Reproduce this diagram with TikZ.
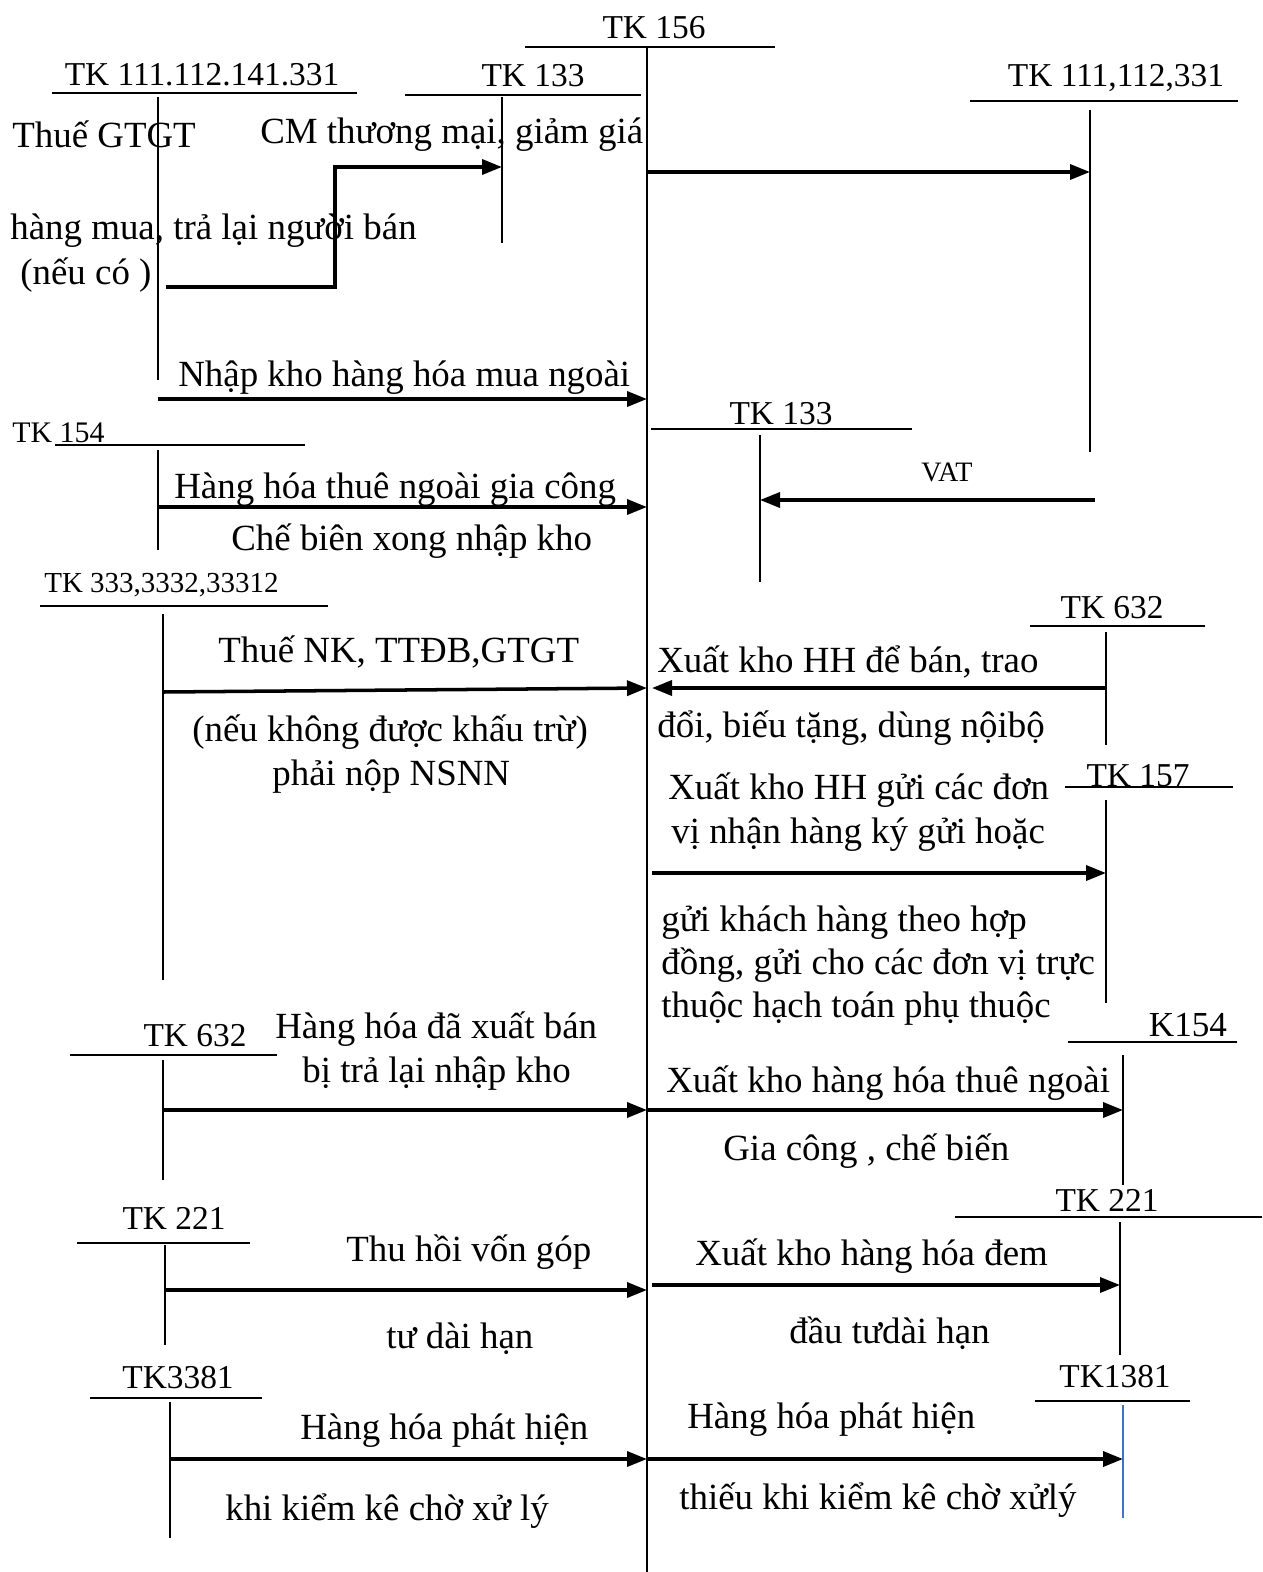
\documentclass[tikz,border=0pt]{standalone}
\usepackage{fontspec}
\setmainfont{Liberation Serif}
\usetikzlibrary{arrows.meta}
\definecolor{lineblue}{RGB}{68,114,196}

\begin{document}
\begin{tikzpicture}[x=0.02cm,y=-0.02cm,
  txt/.style={inner sep=0pt,anchor=west,yshift=-2.6pt,font=\fontsize{21}{25}\selectfont},
  acc/.style={inner sep=0pt,yshift=-0.4pt,font=\fontsize{19}{22}\selectfont},
  smallacc/.style={inner sep=0pt,anchor=west,yshift=-0.4pt,font=\fontsize{17}{20}\selectfont},
  hline/.style={line width=1.1pt},
  vline/.style={line width=1.3pt},
  arr/.style={line width=2pt,-{Triangle[length=0.4cm,width=0.3cm]}}]
  \useasboundingbox (0,0) rectangle (1262,1572);

  % TK 156 in the middle
  \node[acc] (t156) at (654,27) {TK 156};
  \draw[hline] (525,47) -- (775,47);
  \coordinate (v156) at (647,47);
  \coordinate (v156end) at (647,1572);
  \draw[line width=1.6pt] (v156) -- (v156end);

  % TK 111.112.141.331
  \node[acc] (t111) at (202,74) {TK 111.112.141.331};
  \draw[hline] (52,93) -- (357,93);
  \coordinate (v111) at (158,97);
  \draw[vline] (v111) -- (158,380);
  \node[txt] (gtgt) at (12,130) {Thuế GTGT};
  \node[txt] (cm) at (260,130) {CM thương mại, giảm giá};
  \node[txt] (hm) at (10,226) {hàng mua, trả lại người bán};
  \node[txt] (nc) at (20,270) {(nếu có )};
  \node[txt] (nk) at (178,373) {Nhập kho hàng hóa mua ngoài};
  \draw[arr] (v111 |- 0,399) -- (v156 |- 0,399);

  % TK 133 top
  \node[acc] (t133a) at (533,75) {TK 133};
  \draw[hline] (405,95) -- (641,95);
  \coordinate (v133a) at (502,97);
  \draw[vline] (v133a) -- (502,243);
  \coordinate (e1) at (166,287);
  \coordinate (e2) at (335,287);
  \coordinate (e3) at (335,167);
  \draw[arr] (e1) -- (e2) -- (e3) -- (v133a |- e3);

  % TK 111,112,331 right
  \node[acc] (t111r) at (1116,77) {TK 111,112,331};
  \draw[hline] (970,101) -- (1238,101);
  \coordinate (v111r) at (1090,110);
  \draw[vline] (v111r) -- (1090,452);
  \draw[arr] (v156 |- 0,172) -- (v111r |- 0,172);

  % TK 154 left
  \node[smallacc] (t154) at (12,432) {TK 154};
  \draw[hline] (55,445) -- (305,445);
  \coordinate (v154) at (158,450);
  \draw[vline] (v154) -- (158,550);
  \node[txt] (hh1) at (174,485) {Hàng hóa thuê ngoài gia công};
  \draw[arr] (v154 |- 0,507) -- (v156 |- 0,507);
  \node[txt] (cb) at (231,537) {Chế biên xong nhập kho};

  % TK 133 middle
  \node[acc] (t133b) at (781,413) {TK 133};
  \draw[hline] (651,429) -- (912,429);
  \coordinate (v133b) at (760,435);
  \draw[vline] (v133b) -- (760,582);
  \node[acc,font=\fontsize{16}{19}\selectfont] (vat) at (947,472) {VAT};
  \coordinate (vatst) at (1095,500);
  \draw[arr] (vatst) -- (v133b |- vatst);

  % TK 333,3332,33312
  \node[smallacc,font=\fontsize{16.5}{19}\selectfont] (t333) at (44,584) {TK 333,3332,33312};
  \draw[hline] (40,606) -- (328,606);
  \coordinate (v333) at (163,614);
  \draw[vline] (v333) -- (163,980);
  \node[txt] (thue) at (218,647) {Thuế NK, TTĐB,GTGT};
  \draw[arr] (v333 |- 0,692) -- (v156 |- 0,688);
  \node[txt] (nkt) at (192,728) {(nếu không được khấu trừ)};
  \node[txt] (pn) at (272,772) {phải nộp NSNN};

  % TK 632 right
  \node[acc] (t632r) at (1112,607) {TK 632};
  \draw[hline] (1030,626) -- (1205,626);
  \coordinate (v632r) at (1106,632);
  \draw[vline] (v632r) -- (1106,745);
  \node[txt] (xk1) at (657,657) {Xuất kho HH để bán, trao};
  \coordinate (p632) at (652,688);
  \draw[arr] (v632r |- p632) -- (p632);
  \node[txt] (xk1b) at (657,724) {đổi, biếu tặng, dùng nộibộ};

  % TK 157
  \node[acc] (t157) at (1138,775) {TK 157};
  \draw[hline] (1065,787) -- (1233,787);
  \coordinate (v157) at (1106,800);
  \draw[vline] (v157) -- (1106,1003);
  \node[txt] (xk2) at (668,786) {Xuất kho HH gửi các đơn};
  \node[txt] (xk2b) at (671,830) {vị nhận hàng ký gửi hoặc};
  \coordinate (p157) at (652,873);
  \draw[arr] (p157) -- (v157 |- p157);
  \node[txt] (xk2c) at (661,918) {gửi khách hàng theo hợp};
  \node[txt] (xk2d) at (661,961) {đồng, gửi cho các đơn vị trực};
  \node[txt] (xk2e) at (661,1004) {thuộc hạch toán phụ thuộc};

  % K154 right
  \node[acc,font=\fontsize{20}{23}\selectfont] (t154r) at (1188,1024) {K154};
  \draw[hline] (1068,1042) -- (1237,1042);
  \coordinate (v154r) at (1123,1055);
  \draw[vline] (v154r) -- (1123,1185);
  \node[txt] (xk3) at (666,1079) {Xuất kho hàng hóa thuê ngoài};
  \draw[arr] (v156 |- 0,1110) -- (v154r |- 0,1110);
  \node[txt] (gc) at (723,1147) {Gia công , chế biến};

  % TK 632 left
  \node[acc] (t632l) at (195,1035) {TK 632};
  \draw[hline] (70,1055) -- (277,1055);
  \coordinate (v632l) at (163,1060);
  \draw[vline] (v632l) -- (163,1180);
  \node[txt] (hb) at (275,1025) {Hàng hóa đã xuất bán};
  \node[txt] (hbb) at (302,1069) {bị trả lại nhập kho};
  \draw[arr] (v632l |- 0,1110) -- (v156 |- 0,1110);

  % TK 221 left
  \node[acc] (t221l) at (174,1218) {TK 221};
  \draw[hline] (77,1243) -- (250,1243);
  \coordinate (v221l) at (165,1245);
  \draw[vline] (v221l) -- (165,1345);
  \node[txt] (th) at (346,1248) {Thu hồi vốn góp};
  \draw[arr] (v221l |- 0,1290) -- (v156 |- 0,1290);
  \node[txt] (tdh) at (386,1334) {tư dài hạn};

  % TK 221 right
  \node[acc] (t221r) at (1107,1200) {TK 221};
  \draw[hline] (955,1217) -- (1262,1217);
  \coordinate (v221r) at (1120,1222);
  \draw[vline] (v221r) -- (1120,1355);
  \node[txt] (xk4) at (695,1252) {Xuất kho hàng hóa đem};
  \coordinate (p221) at (652,1285);
  \draw[arr] (p221) -- (v221r |- p221);
  \node[txt] (ddh) at (789,1329) {đầu tưdài hạn};

  % TK3381
  \node[acc] (t3381) at (178,1377) {TK3381};
  \draw[hline] (90,1398) -- (262,1398);
  \coordinate (v3381) at (170,1402);
  \draw[vline] (v3381) -- (170,1538);
  \node[txt] (ph1) at (300,1426) {Hàng hóa phát hiện};
  \draw[arr] (v3381 |- 0,1459) -- (v156 |- 0,1459);
  \node[txt] (kk1) at (225,1507) {khi kiểm kê chờ xử lý};

  % TK1381
  \node[acc] (t1381) at (1115,1376) {TK1381};
  \draw[hline] (1035,1401) -- (1190,1401);
  \coordinate (v1381) at (1123,1405);
  \draw[vline,lineblue] (v1381) -- (1123,1518);
  \node[txt] (ph2) at (687,1415) {Hàng hóa phát hiện};
  \draw[arr] (v156 |- 0,1459) -- (v1381 |- 0,1459);
  \node[txt] (kk2) at (679,1496) {thiếu khi kiểm kê chờ xửlý};
\end{tikzpicture}
\end{document}
